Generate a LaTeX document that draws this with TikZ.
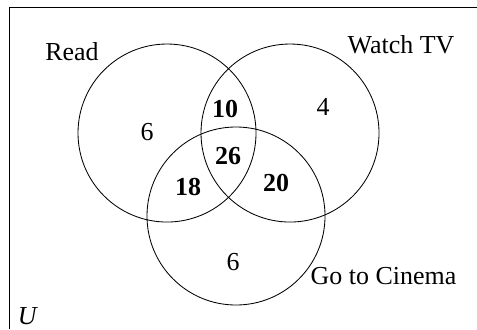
\documentclass[tikz,border=0pt]{standalone}
\usepackage{fontspec}
\setmainfont{Liberation Serif}
\begin{document}
\begin{tikzpicture}[every node/.style={font=\fontsize{24.6}{29}\selectfont,inner sep=0pt},
	nombre/.style={font=\fontsize{24.6}{29}\selectfont\bfseries}]
	\useasboundingbox (0,0) rectangle (15.9,10.967);
	\draw[line width=0.9pt] (0.3,0)--(0.3,10.733)--(15.9,10.733); % le cadre de l'univers
	\draw[line width=0.8pt] (5.567,6.533) circle (2.967); % lire
	\draw[line width=0.8pt] (9.667,6.533) circle (2.967); % la télé
	\draw[line width=0.8pt] (7.867,3.767) circle (2.967); % le cinéma
	\node (read) at (2.4,9.233) {Read};
	\node (tv) at (13.367,9.467) {Watch TV};
	\node (cinema) at (12.783,1.767) {Go to Cinema};
	\node (u) at (0.933,0.433) {\textit{U}};
	\node (r) at (4.9,6.567) {6};
	\node (t) at (10.767,7.4) {4};
	\node (c) at (7.767,2.233) {6};
	\node[nombre] (rt) at (7.5,7.333) {10};
	\node[nombre] (rtc) at (7.6,5.767) {26};
	\node[nombre] (rc) at (6.267,4.733) {18};
	\node[nombre] (tc) at (9.2,4.867) {20};
\end{tikzpicture}
\end{document}
